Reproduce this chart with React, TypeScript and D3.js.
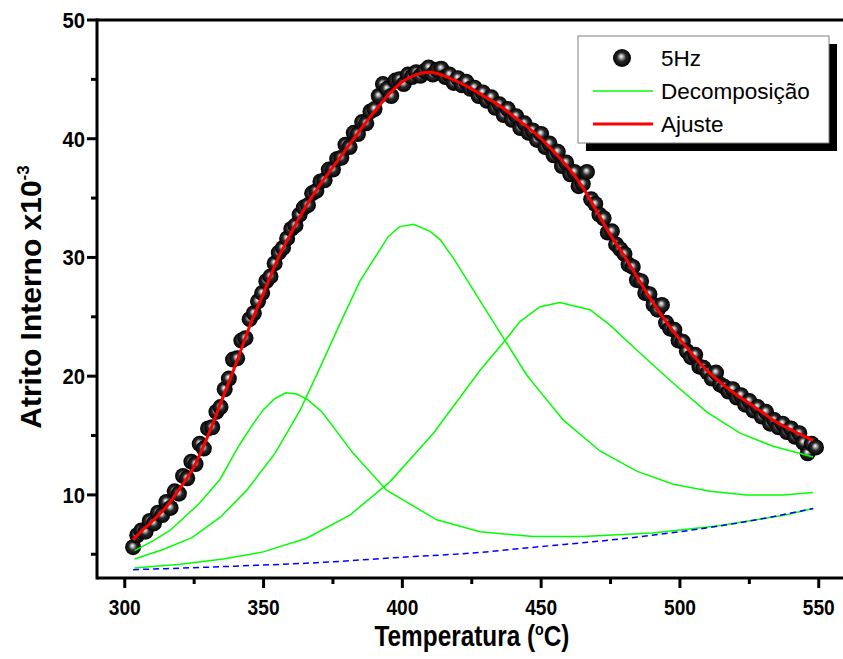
import React from "react";
import * as d3 from "d3";

// ---- data ----
const dataT = [303.0,304.5,306.0,307.5,309.0,310.5,312.0,313.5,315.0,316.5,318.0,319.5,321.0,322.5,324.0,325.5,327.0,328.5,330.0,331.5,333.0,334.5,336.0,337.5,339.0,340.5,342.0,343.5,345.0,346.5,348.0,349.5,351.0,352.5,354.0,355.5,357.0,358.5,360.0,361.5,363.0,364.5,366.0,367.5,369.0,370.5,372.0,373.5,375.0,376.5,378.0,379.5,381.0,382.5,384.0,385.5,387.0,388.5,390.0,391.5,393.0,394.5,396.0,397.5,399.0,400.5,402.0,403.5,405.0,406.5,408.0,409.5,411.0,412.5,414.0,415.5,417.0,418.5,420.0,421.5,423.0,424.5,426.0,427.5,429.0,430.5,432.0,433.5,435.0,436.5,438.0,439.5,441.0,442.5,444.0,445.5,447.0,448.5,450.0,451.5,453.0,454.5,456.0,457.5,459.0,460.5,462.0,463.5,465.0,466.5,468.0,469.5,471.0,472.5,474.0,475.5,477.0,478.5,480.0,481.5,483.0,484.5,486.0,487.5,489.0,490.5,492.0,493.5,495.0,496.5,498.0,499.5,501.0,502.5,504.0,505.5,507.0,508.5,510.0,511.5,513.0,514.5,516.0,517.5,519.0,520.5,522.0,523.5,525.0,526.5,528.0,529.5,531.0,532.5,534.0,535.5,537.0,538.5,540.0,541.5,543.0,544.5,546.0,547.5,549.0];
const dataA = [5.6,6.6,7.0,6.9,7.8,7.6,8.5,8.3,9.4,8.9,10.3,10.1,11.6,11.4,12.8,12.6,14.3,13.9,15.6,15.7,17.0,17.4,18.9,19.8,21.4,21.5,23.0,23.2,24.8,25.3,26.3,27.0,28.0,28.4,29.5,30.4,30.8,31.6,32.4,32.7,33.6,34.2,34.4,35.4,35.6,36.4,36.5,37.4,37.4,38.3,38.4,39.5,39.3,40.5,40.4,41.4,41.3,42.3,42.5,43.6,44.6,44.2,43.6,44.9,45.0,44.6,45.4,45.2,45.6,45.3,45.7,46.0,45.4,45.8,45.9,45.2,45.4,44.7,45.1,44.5,44.8,44.2,44.3,43.6,43.9,43.2,43.5,42.6,42.9,42.0,42.5,41.6,41.9,40.9,41.3,40.5,40.7,39.9,40.4,39.3,39.6,38.6,38.9,37.7,38.0,37.0,37.2,36.0,36.2,37.2,34.9,34.5,33.6,33.3,32.1,32.2,31.1,30.7,30.3,29.4,29.2,28.1,28.0,27.0,26.9,26.0,25.6,26.0,24.5,24.0,23.9,23.0,22.9,22.1,21.6,21.8,20.8,20.7,20.3,19.8,20.3,19.3,19.1,18.7,18.9,18.2,18.4,17.6,17.9,17.1,17.4,16.6,17.0,16.0,16.3,15.7,16.0,15.3,15.6,14.9,15.2,14.4,13.5,14.3,14.0];

const fitT = [303,305,310,315,320,325,330,335,340,345,350,355,360,365,370,375,380,385,390,395,400,405,410,415,420,425,430,435,440,445,450,455,460,465,470,475,480,485,490,495,500,505,510,515,520,525,530,535,540,545,548];
const fitA = [6.2,6.7,7.8,9.0,10.6,12.4,15.0,18.0,21.0,24.2,27.0,29.8,32.1,34.2,36.0,37.6,39.2,40.8,42.3,43.7,44.8,45.4,45.6,45.3,44.8,44.2,43.5,42.8,41.9,41.0,40.0,38.8,37.5,35.9,33.9,31.9,30.1,28.2,26.3,24.6,23.1,21.7,20.4,19.4,18.5,17.7,16.9,16.1,15.5,14.9,14.6];

const peak1T = [303.5,310,316.3,326.5,334.3,341,346,350,354,358,362,366,371,382.3,394.3,412.4,428,447,465,490,514,538,548];
const peak1A = [5.3,6.1,7.0,9.2,11.3,14.1,15.9,17.2,18.1,18.6,18.5,18.0,17.0,13.5,10.4,7.9,6.9,6.5,6.5,6.8,7.4,8.3,8.85];

const peak2T = [303.5,313.8,324.2,334.3,344,354.1,363.1,370.3,377.5,384.7,394.9,399,404,410,413.6,418.5,429.2,437,444.8,449.6,458,471.2,484.4,497.6,510.8,524,537.2,548];
const peak2A = [4.6,5.4,6.4,8.1,10.4,13.5,17.1,20.7,24.4,28.0,31.75,32.6,32.8,32.2,31.5,29.9,25.9,23.0,20.1,18.7,16.3,13.7,12.0,10.9,10.3,10.0,10.0,10.2];

const peak3T = [303.5,320,335.5,349.9,365.5,381.1,395.5,411.2,428,437,442.4,449.6,456.8,467.6,474.8,484.4,497.6,509.6,521.6,533.6,548];
const peak3A = [3.85,4.15,4.6,5.2,6.35,8.3,11.1,15.2,20.5,23.0,24.6,25.85,26.2,25.6,24.3,22.2,19.4,17.0,15.2,14.1,13.2];

const baseT = [303,340,370,400,425,450,475,500,525,548];
const baseA = [3.7,4.0,4.3,4.75,5.1,5.65,6.2,6.9,7.8,8.85];

const xMajor = [300, 350, 400, 450, 500, 550];
const xMinor = [325, 375, 425, 475, 525];
const yMajor = [10, 20, 30, 40, 50];
const yMinor = [5, 15, 25, 35, 45];

const legendLabels = ["5Hz", "Decomposição", "Ajuste"];

export default function App() {
  const W = 843, H = 659;
  const x = d3.scaleLinear().domain([290, 560]).range([97, 846.5]);
  const y = d3.scaleLinear().domain([3, 50]).range([578, 20]);

  const mk = (ts: number[], vs: number[]) => ts.map((t, i) => [t, vs[i]] as [number, number]);
  const lin = d3.line<[number, number]>().x(d => x(d[0])).y(d => y(d[1]));
  const smooth = d3.line<[number, number]>().x(d => x(d[0])).y(d => y(d[1])).curve(d3.curveMonotoneX);

  const font = "'Liberation Sans', Arial, sans-serif";

  const x0 = x(290), yb = y(3), yt = y(50);

  return (
    <svg width={W} height={H} style={{ position: "absolute", left: 0, top: 0, background: "#fff" }}>
      <defs>
        <radialGradient id="ball" cx="0.5" cy="0.5" r="0.5" fx="0.45" fy="0.4">
          <stop offset="0" stopColor="#ffffff" />
          <stop offset="0.2" stopColor="#b0b0b0" />
          <stop offset="0.5" stopColor="#2a2a2a" />
          <stop offset="1" stopColor="#000000" />
        </radialGradient>
      </defs>

      {/* data points */}
      <g>
        {dataT.map((t, i) => (
          <circle key={i} cx={x(t)} cy={y(dataA[i])} r={8} fill="url(#ball)" />
        ))}
      </g>

      {/* decomposition peaks */}
      {[mk(peak1T, peak1A), mk(peak2T, peak2A), mk(peak3T, peak3A)].map((pts, i) => (
        <path key={i} d={lin(pts) || ""} fill="none" stroke="#00ff00" strokeWidth={1.5} />
      ))}
      {/* baseline */}
      <path d={smooth(mk(baseT, baseA)) || ""} fill="none" stroke="#0000ff" strokeWidth={1.5} strokeDasharray="6,4" />
      {/* fit */}
      <path d={smooth(mk(fitT, fitA)) || ""} fill="none" stroke="#ff0000" strokeWidth={3} />

      {/* frame */}
      <line x1={x0} x2={W} y1={yt} y2={yt} stroke="#000" strokeWidth={3} />
      <line x1={x0} x2={W} y1={yb} y2={yb} stroke="#000" strokeWidth={3} />
      <line x1={x0} x2={x0} y1={yt - 1.5} y2={yb + 1.5} stroke="#000" strokeWidth={3} />

      {/* x ticks */}
      {xMajor.map(v => (
        <g key={"xM" + v}>
          <line x1={x(v)} x2={x(v)} y1={yb} y2={yb + 10} stroke="#000" strokeWidth={3} />
          <text transform={`translate(${x(v)},615) scale(0.87,1)`} textAnchor="middle" fontFamily={font} fontWeight="bold" fontSize={22}>{v}</text>
        </g>
      ))}
      {xMinor.map(v => (
        <line key={"xm" + v} x1={x(v)} x2={x(v)} y1={yb} y2={yb + 6} stroke="#000" strokeWidth={3} />
      ))}
      {/* y ticks */}
      {yMajor.map(v => (
        <g key={"yM" + v}>
          <line x1={x0} x2={x0 - 10} y1={y(v)} y2={y(v)} stroke="#000" strokeWidth={3} />
          <text transform={`translate(85,${y(v) + 8}) scale(0.92,1)`} textAnchor="end" fontFamily={font} fontWeight="bold" fontSize={22}>{v}</text>
        </g>
      ))}
      {yMinor.map(v => (
        <line key={"ym" + v} x1={x0} x2={x0 - 6} y1={y(v)} y2={y(v)} stroke="#000" strokeWidth={3} />
      ))}

      {/* axis titles */}
      <text transform="translate(472,646) scale(0.84,1)" textAnchor="middle" fontFamily={font} fontWeight="bold" fontSize={29}>
        Temperatura (<tspan dy={-11} fontSize={17}>o</tspan><tspan dy={11}>C)</tspan>
      </text>
      <text transform="translate(41,297) rotate(-90)" textAnchor="middle" fontFamily={font} fontWeight="bold" fontSize={30}>
        Atrito Interno x10<tspan dy={-12} fontSize={17}>-3</tspan>
      </text>

      {/* legend */}
      <rect x={586} y={44} width={251} height={107} fill="#000" />
      <rect x={578} y={36} width={251} height={107} fill="#fff" stroke="#808080" strokeWidth={1} />
      <circle cx={622} cy={58} r={9} fill="url(#ball)" />
      <line x1={593} x2={653} y1={91} y2={91} stroke="#00ff00" strokeWidth={1.5} />
      <line x1={593} x2={653} y1={124} y2={124} stroke="#ff0000" strokeWidth={3} />
      {legendLabels.map((s, i) => (
        <text key={s} x={661} y={66 + i * 33} fontFamily={font} fontSize={22.5}>{s}</text>
      ))}
    </svg>
  );
}
